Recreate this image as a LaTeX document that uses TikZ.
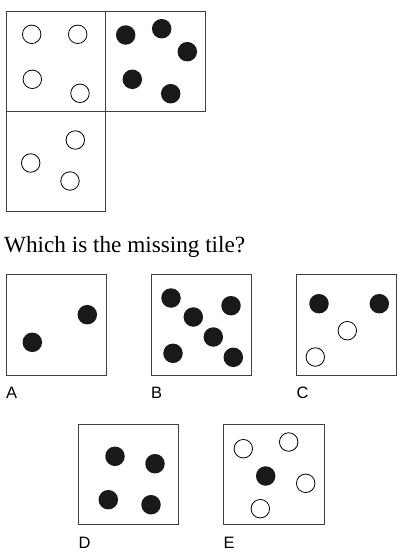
\documentclass[tikz,border=0pt]{standalone}
\usepackage{fontspec}
\setmainfont{Liberation Serif}
\newfontfamily\labfont{Liberation Sans}
\begin{document}
\begin{tikzpicture}[x=1pt,y=-1pt,
  tile/.style={draw=black!75,line width=1pt},
  wdot/.style={circle,draw=black,line width=0.8pt,fill=white,minimum size=18.5pt,inner sep=0pt},
  bdot/.style={circle,fill=black!90,minimum size=19.5pt,inner sep=0pt},
  lab/.style={anchor=base west,inner sep=0pt,font=\labfont\fontsize{16.5}{16.5}\selectfont}]
\useasboundingbox (0,0) rectangle (401,557);
% question grid
\draw[tile] (6,11.7) rectangle (105.3,111);
\draw[tile] (105.3,11.7) rectangle (205,111);
\draw[tile] (6,111) rectangle (105.3,211);
\node[wdot] (q1a) at (31.7,34.3) {};
\node[wdot] (q1b) at (77.7,34.3) {};
\node[wdot] (q1c) at (32.3,79.3) {};
\node[wdot] (q1d) at (80,93.3) {};
\node[bdot] (q2a) at (125.7,35) {};
\node[bdot] (q2b) at (161.7,28.7) {};
\node[bdot] (q2c) at (187.3,51.7) {};
\node[bdot] (q2d) at (132.3,79.3) {};
\node[bdot] (q2e) at (170.7,93.7) {};
\node[wdot] (q3a) at (75.3,140) {};
\node[wdot] (q3b) at (30.7,163) {};
\node[wdot] (q3c) at (70,181) {};
% question text
\node[anchor=base west,inner sep=0pt,font=\fontsize{23.2}{23.2}\selectfont] (qt) at (4,252.3) {Which is the missing tile?};
% answers
\draw[tile] (6,274.3) rectangle (106,375);
\draw[tile] (151,274.3) rectangle (251,375);
\draw[tile] (296.3,274.3) rectangle (396.7,375);
\draw[tile] (78.3,424.3) rectangle (178.3,524.7);
\draw[tile] (223.3,424.3) rectangle (324,524.7);
\node[bdot] (a1) at (32.3,342.3) {};
\node[bdot] (a2) at (87.3,314.7) {};
\node[bdot] (b1) at (171,298) {};
\node[bdot] (b2) at (193.3,317) {};
\node[bdot] (b3) at (231,305.7) {};
\node[bdot] (b4) at (213.3,337) {};
\node[bdot] (b5) at (173,353.3) {};
\node[bdot] (b6) at (233.3,357.3) {};
\node[bdot] (c1) at (319,303.7) {};
\node[bdot] (c2) at (379.3,303.7) {};
\node[wdot] (c3) at (347.3,330.7) {};
\node[wdot] (c4) at (315.3,357) {};
\node[bdot] (d1) at (115,456.3) {};
\node[bdot] (d2) at (155,463.7) {};
\node[bdot] (d3) at (108.3,499.7) {};
\node[bdot] (d4) at (151,504.7) {};
\node[wdot] (e1) at (243.3,448.7) {};
\node[wdot] (e2) at (288.7,442) {};
\node[wdot] (e3) at (305.7,483.3) {};
\node[wdot] (e4) at (260.3,508.7) {};
\node[bdot] (e5) at (265.7,476) {};
% labels
\node[lab] (la) at (6,398.3) {A};
\node[lab] (lb) at (151,398.3) {B};
\node[lab] (lc) at (296.3,398.3) {C};
\node[lab] (ld) at (78.3,548.3) {D};
\node[lab] (le) at (223.3,548.3) {E};
\end{tikzpicture}
\end{document}
